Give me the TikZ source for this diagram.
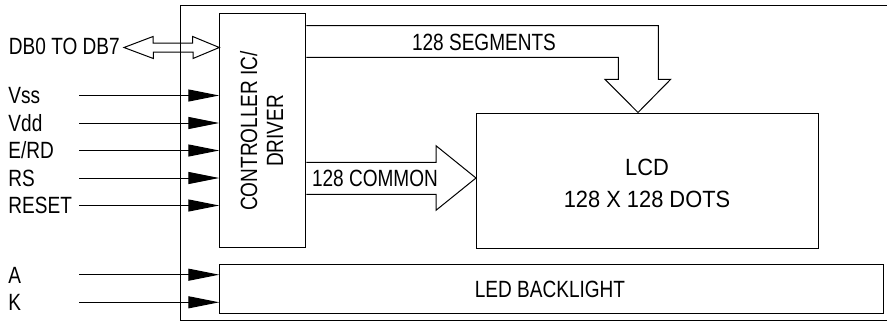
\documentclass[tikz,border=0pt]{standalone}
\usepackage{fontspec}
\setmainfont[FakeStretch=0.81]{Liberation Sans}
\newfontfamily\lcdfont[FakeStretch=0.93]{Liberation Sans}
\usetikzlibrary{arrows.meta}
\begin{document}
\begin{tikzpicture}[x=1pt,y=-1pt,line width=1pt,
  box/.style={draw,inner sep=0pt,anchor=north west},
  txt/.style={font=\fontsize{23.5}{26}\selectfont,inner sep=0pt},
  lbl/.style={txt,text height=16.8pt,text depth=0pt,anchor=west},
  pinarrow/.style={-{Triangle[length=31pt,width=12pt]}},
  bus/.style={line join=miter}]
\useasboundingbox (0,0) rectangle (887,322);
% outer module frame
\draw (889,5.5) -- (180.5,5.5) -- (180.5,320.5) -- (889,320.5);
% blocks
\node[box,minimum width=86pt,minimum height=233.7pt] (ctrl) at (219.3,13.3) {};
\node[txt,rotate=90,align=center] (ctrltxt) at (261.5,131) {CONTROLLER IC/\\DRIVER};
\node[box,minimum width=342pt,minimum height=135pt] (lcd) at (476,112.5) {};
\node[txt,anchor=base,font=\lcdfont\fontsize{23.5}{26}\selectfont] (lcdtxt1) at (647,175.5) {LCD};
\node[txt,anchor=base,font=\lcdfont\fontsize{23.5}{26}\selectfont] (lcdtxt2) at (647,207.3) {128 X 128 DOTS};
\node[box,minimum width=664pt,minimum height=49pt] (led) at (219.3,264.3) {};
\node[txt] (ledtxt) at (550,289) {LED BACKLIGHT};
% input labels
\node[lbl] (db) at (8.5,46.5) {DB0 TO DB7};
\node[lbl] (vss) at (8,95.5) {Vss};
\node[lbl] (vdd) at (8,123) {Vdd};
\node[lbl] (erd) at (8,150.5) {E/RD};
\node[lbl] (rs) at (8,178) {RS};
\node[lbl] (reset) at (8,205.5) {RESET};
\node[lbl] (a) at (8,274.7) {A};
\node[lbl] (k) at (8,302.3) {K};
% input pins
\foreach \n/\y in {vss/95.5,vdd/123,erd/150.5,rs/178,reset/205.5}{
  \coordinate (\n S) at (79,\y);
  \draw[pinarrow] (\n S) -- (\n S -| ctrl.west);
}
\foreach \n/\y in {a/274.7,k/302.3}{
  \coordinate (\n S) at (79,\y);
  \draw[pinarrow] (\n S) -- (\n S -| led.west);
}
% data bus double arrow
\coordinate (dbL) at (124,47.5);
\coordinate (dbR) at (dbL -| ctrl.west);
\draw[bus] (dbL) -- ++(29,-11) -- ++(0,6.5) -- ++(39.7,0) -- ++(0,-6.5) -- (dbR)
  -- ++(-26.3,11) -- ++(0,-6.5) -- ++(-39.7,0) -- ++(0,6.5) -- cycle;
% 128 segments
\coordinate (segT) at (ctrl.east |- 0,25.7);
\coordinate (segB) at (ctrl.east |- 0,57.3);
\coordinate (segTip) at (lcd.north -| 638,0);
\draw[bus] (segT) -- (658.3,25.7) -- (658.3,79.3) -- (670.7,79.3) -- (segTip)
  -- (605,79.3) -- (618.3,79.3) -- (618.3,57.3) -- (segB);
\node[txt,anchor=base] (segtxt) at (484,50) {128 SEGMENTS};
% 128 common
\coordinate (comT) at (ctrl.east |- 0,162.3);
\coordinate (comB) at (ctrl.east |- 0,194.3);
\coordinate (comTip) at (lcd.west |- 0,178);
\draw[bus] (comT) -- (436,162.3) -- (436,145.7) -- (comTip) -- (436,210.3)
  -- (436,194.3) -- (comB);
\node[txt,anchor=base west] (comtxt) at (311.5,186.7) {128 COMMON};
\end{tikzpicture}
\end{document}
